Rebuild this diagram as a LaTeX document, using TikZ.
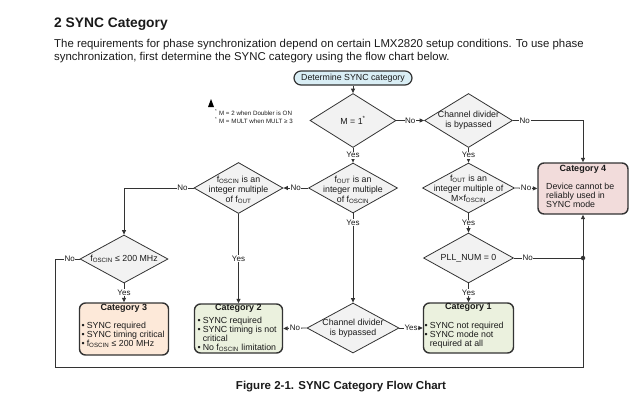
\documentclass[tikz,border=0pt]{standalone}
\usepackage{fontspec}
\setmainfont{Liberation Sans}
\usetikzlibrary{shapes.geometric,arrows.meta}
\definecolor{linec}{HTML}{333333}
\definecolor{dfill}{HTML}{F2F2F2}
\definecolor{startfill}{HTML}{D9EEF5}
\definecolor{cfourfill}{HTML}{F2DCDB}
\definecolor{cgreenfill}{HTML}{EBF1DE}
\definecolor{cthreefill}{HTML}{FDE9D9}
\definecolor{txt}{HTML}{1A1A1A}
\begin{document}
\begin{tikzpicture}[x=1pt,y=-1pt,
  every node/.style={text=txt},
  dia/.style={diamond,draw=linec,fill=dfill,line width=0.8pt,inner sep=0pt},
  dtxt/.style={align=center,inner sep=0pt,font=\fontsize{8.8}{10}\selectfont},
  catbox/.style={draw=linec,line width=1.4pt,rounded corners=6pt,inner sep=0pt},
  cattitle/.style={inner sep=0pt,font=\bfseries\fontsize{9}{10}\selectfont},
  catbody/.style={inner sep=0pt,anchor=north west,align=left,font=\fontsize{8.8}{9.2}\selectfont},
  startbox/.style={draw=linec,line width=1.2pt,fill=startfill,rounded corners=7pt,minimum width=118pt,minimum height=14pt,inner sep=0pt,font=\fontsize{8.8}{10}\selectfont},
  lab/.style={fill=white,inner sep=0.6pt,font=\fontsize{8}{9}\selectfont},
  arr/.style={draw=linec,line width=0.8pt,-{Triangle[length=4.5pt,width=4pt]}},
  ln/.style={draw=linec,line width=0.8pt},
  ]
\useasboundingbox (0,0) rectangle (640,405);

% heading and paragraph
\node[anchor=base west,inner sep=0pt,font=\bfseries\fontsize{13.8}{16}\selectfont] (title) at (54,27) {2 SYNC Category};
\node[anchor=base west,inner sep=0pt,font=\fontsize{11.4}{13}\selectfont] (para1) at (54,47) {The requirements for phase synchronization depend on certain LMX2820 setup conditions. To use phase};
\node[anchor=base west,inner sep=0pt,font=\fontsize{11.4}{13}\selectfont] (para2) at (54,60.5) {synchronization, first determine the SYNC category using the flow chart below.};

% note
\fill[black] (208,107) -- (214,107) -- (211,99) -- cycle;
\node[anchor=base west,inner sep=0pt,font=\fontsize{6.2}{7}\selectfont] (note1) at (215,115) {\textsuperscript{*} M = 2 when Doubler is ON};
\node[anchor=base west,inner sep=0pt,font=\fontsize{6.2}{7}\selectfont] (note2) at (215,123) {\textsuperscript{*} M = MULT when MULT ≥ 3};

% start
\node[startbox] (start) at (353,78) {Determine SYNC category};

% diamonds
\node[dia,minimum width=86pt,minimum height=54pt] (dM) at (353,120.5) {};
\node[dtxt] (dMt) at (353,120.5) {M = 1\textsuperscript{*}};

\node[dia,minimum width=88pt,minimum height=54pt] (dCD1) at (468.5,120.5) {};
\node[dtxt] (dCD1t) at (468.5,120.5) {Channel divider\\is bypassed};

\node[dia,minimum width=92pt,minimum height=50pt] (dFoutM) at (468.5,188) {};
\node[dtxt] (dFoutMt) at (468.5,188.5) {f\textsubscript{OUT} is an\\integer multiple of\\M×f\textsubscript{OSCIN}};

\node[dia,minimum width=90pt,minimum height=50pt] (dPLL) at (468.5,258) {};
\node[dtxt] (dPLLt) at (468.5,258) {PLL\_NUM = 0};

\node[dia,minimum width=89pt,minimum height=50pt] (dFout) at (353,188) {};
\node[dtxt] (dFoutt) at (353,189.5) {f\textsubscript{OUT} is an\\integer multiple\\of f\textsubscript{OSCIN}};

\node[dia,minimum width=92pt,minimum height=50pt] (dCD2) at (353,328) {};
\node[dtxt] (dCD2t) at (353,328) {Channel divider\\is bypassed};

\node[dia,minimum width=89pt,minimum height=51pt] (dFosc) at (238.5,188) {};
\node[dtxt] (dFosct) at (238.5,190) {f\textsubscript{OSCIN} is an\\integer multiple\\of f\textsubscript{OUT}};

\node[dia,minimum width=88pt,minimum height=48pt] (d200) at (124,259) {};
\node[dtxt] (d200t) at (124,259) {f\textsubscript{OSCIN} ≤ 200 MHz};

% category boxes
\node[catbox,fill=cfourfill,minimum width=90pt,minimum height=51pt] (cat4) at (583,188.5) {};
\node[cattitle] (cat4t) at (583,169) {Category 4};
\node[catbody] (cat4b) at (546,182.5) {Device cannot be\\reliably used in\\SYNC mode};

\node[catbox,fill=cgreenfill,minimum width=90pt,minimum height=50pt] (cat1) at (468.5,328) {};
\node[cattitle] (cat1t) at (468.5,307.5) {Category 1};
\node[catbody] (cat1b) at (424.5,321.5) {\begin{tabular}{@{}l@{\hspace{2pt}}l@{}}•&SYNC not required\\•&SYNC mode not\\&required at all\end{tabular}};

\node[catbox,fill=cgreenfill,minimum width=88pt,minimum height=49pt] (cat2) at (238.5,328.5) {};
\node[cattitle] (cat2t) at (238.5,308) {Category 2};
\node[catbody] (cat2b) at (197.5,316.5) {\begin{tabular}{@{}l@{\hspace{2pt}}l@{}}•&SYNC required\\•&SYNC timing is not\\&critical\\•&No f\textsubscript{OSCIN} limitation\end{tabular}};

\node[catbox,fill=cthreefill,minimum width=89pt,minimum height=52pt] (cat3) at (124,329) {};
\node[cattitle] (cat3t) at (124,308) {Category 3};
\node[catbody] (cat3b) at (81.5,321.5) {\begin{tabular}{@{}l@{\hspace{2pt}}l@{}}•&SYNC required\\•&SYNC timing critical\\•&f\textsubscript{OSCIN} ≤ 200 MHz\end{tabular}};

% junction and loop coordinates
\node[circle,fill=linec,inner sep=0pt,minimum size=4.5pt] (jn) at (583,258) {};
\coordinate (lp1) at (55,259);
\coordinate (lp2) at (55,367);
\coordinate (lp3) at (583,367);

% connectors
\draw[arr] (start.south) -- (dM.north);
\draw[arr] (dM.east) -- node[lab]{No} (dCD1.west);
\draw[arr] (dCD1.east) -- node[lab,pos=0.17]{No} (dCD1.east -| cat4.north) -- (cat4.north);
\draw[arr] (dCD1.south) -- node[lab]{Yes} (dFoutM.north);
\draw[arr] (dFoutM.east) -- node[lab]{No} (cat4.west);
\draw[arr] (dFoutM.south) -- node[lab]{Yes} (dPLL.north);
\draw[ln] (dPLL.east) -- node[lab,pos=0.2]{No} (jn.center);
\draw[arr] (dPLL.south) -- node[lab]{Yes} (cat1.north);
\draw[arr] (dM.south) -- node[lab]{Yes} (dFout.north);
\draw[arr] (dFout.west) -- node[lab]{No} (dFosc.east);
\draw[arr] (dFout.south) -- node[lab,pos=0.1]{Yes} (dCD2.north);
\draw[arr] (dFosc.west) -- node[lab,pos=0.16]{No} (dFosc.west -| d200.north) -- (d200.north);
\draw[arr] (dFosc.south) -- node[lab]{Yes} (cat2.north);
\draw[arr] (d200.west) -- node[lab,pos=0.4]{No} (lp1) -- (lp2) -- (lp3) -- (cat4.south);
\draw[arr] (d200.south) -- node[lab]{Yes} (cat3.north);
\draw[arr] (dCD2.east) -- node[lab]{Yes} (cat1.west);
\draw[arr] (dCD2.west) -- node[lab]{No} (cat2.east);

% caption
\node[anchor=base,inner sep=0pt,font=\bfseries\fontsize{11.5}{13}\selectfont] (caption) at (341,389) {Figure 2-1. SYNC Category Flow Chart};
\end{tikzpicture}
\end{document}
